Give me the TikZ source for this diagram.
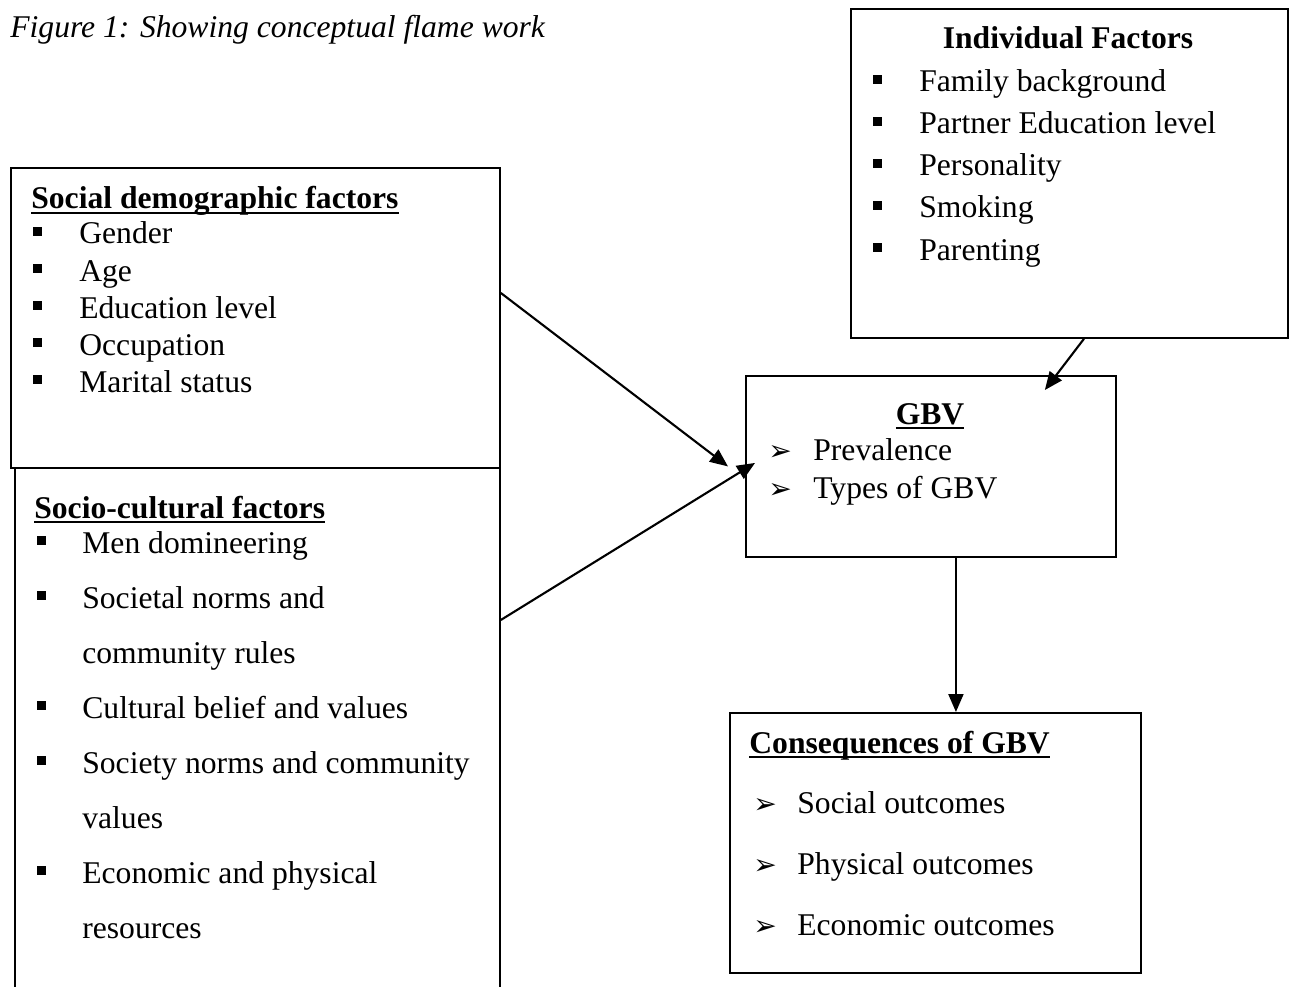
\documentclass[tikz,border=0pt]{standalone}
\usepackage{fontspec}
\setmainfont{Liberation Serif}
\newfontfamily\dingfont{DejaVu Sans}
\usepackage{tikz}
\usetikzlibrary{arrows.meta,positioning,calc}

\newcommand{\sqb}{\rule[0.16cm]{0.18cm}{0.18cm}}
\newcommand{\arb}{{\dingfont\fontsize{16}{16}\selectfont ➢}}
\newcommand{\ulhead}[1]{\setbox0\hbox{#1}\rlap{\rule[-0.1cm]{\wd0}{0.04cm}}\box0}

\begin{document}
\begin{tikzpicture}[
  x=0.02cm, y=-0.02cm,
  font=\fontsize{18}{22}\selectfont,
  fbox/.style={draw, line width=1.1pt, anchor=north west, inner sep=0pt},
  ftext/.style={anchor=base west, inner sep=0pt},
  fhead/.style={anchor=base west, inner sep=0pt,
    font=\fontsize{18}{22}\selectfont\bfseries},
  farr/.style={-{Triangle[length=0.36cm,width=0.3cm]}, line width=1.2pt},
]
  \useasboundingbox (0,0) rectangle (1293,986);
  \clip (0,0) rectangle (1293,986);

  %% -- Caption ------------------------------------------------
  \node[ftext, font=\fontsize{18}{22}\selectfont\itshape] (cap) at (10,38)
    {Figure 1: Showing conceptual flame work};

  %% -- Boxes --------------------------------------------------
  \node[fbox, minimum width=8.74cm, minimum height=6.58cm] (ind) at (850,8) {};
  \node[fbox, minimum width=9.78cm, minimum height=6.0cm] (demo) at (10,167) {};
  \node[fbox, minimum width=9.70cm, minimum height=10.7cm] (socio) at (14,467) {};
  \node[fbox, minimum width=7.40cm, minimum height=3.62cm] (gbv) at (745,375) {};
  \node[fbox, minimum width=8.22cm, minimum height=5.20cm] (cons) at (729,712) {};

  %% -- Individual factors -------------------------------------
  \node[fhead, anchor=base] (ind-h) at (1068,49) {Individual Factors};
  \foreach \t [count=\i] in {Family background, Partner Education level,
      Personality, Smoking, Parenting}
    \node[ftext] (ind-\i) at (873, 50+42*\i) {\makebox[0.92cm][l]{\sqb}\t};

  %% -- Social demographic factors -----------------------------
  \node[fhead] (demo-h) at (31,209) {\ulhead{Social demographic factors}};
  \foreach \t [count=\i] in {Gender, Age, Education level, Occupation,
      Marital status}
    \node[ftext] (demo-\i) at (33, 207+37*\i) {\makebox[0.92cm][l]{\sqb}\t};

  %% -- Socio-cultural factors ---------------------------------
  \node[fhead] (socio-h) at (34,518) {\ulhead{Socio-cultural factors}};
  \foreach \b/\t [count=\i] in {1/Men domineering, 1/Societal norms and,
      0/community rules, 1/Cultural belief and values,
      1/Society norms and community, 0/values,
      1/Economic and physical, 0/resources}
    \node[ftext] (socio-\i) at (37, 498+55*\i)
      {\makebox[0.9cm][l]{\ifnum\b=1 \sqb\fi}\t};

  %% -- GBV ----------------------------------------------------
  \node[fhead, anchor=base] (gbv-h) at (930,424) {\ulhead{GBV}};
  \foreach \t [count=\i] in {Prevalence, Types of GBV}
    \node[ftext] (gbv-\i) at (768, 422+38*\i) {\makebox[0.9cm][l]{\arb}\t};

  %% -- Consequences -------------------------------------------
  \node[fhead] (cons-h) at (749,753) {\ulhead{Consequences of GBV}};
  \foreach \t [count=\i] in {Social outcomes, Physical outcomes,
      Economic outcomes}
    \node[ftext] (cons-\i) at (753, 752+61*\i) {\makebox[0.88cm][l]{\arb}\t};

  %% -- Arrows -------------------------------------------------
  \draw[farr] ([yshift=-2.52cm]demo.north east) -- ([xshift=-0.34cm]gbv.west);
  \draw[farr] ([yshift=-3.06cm]socio.north east)
    -- ([xshift=0.2cm,yshift=0.07cm]gbv.west);
  \draw[farr] ([xshift=0.29cm]ind.south)
    -- ([xshift=-1.44cm,yshift=-0.3cm]gbv.north east);
  \draw[farr] ([xshift=0.5cm]gbv.south) -- ([xshift=0.5cm]gbv.south |- cons.north);

\end{tikzpicture}
\end{document}
